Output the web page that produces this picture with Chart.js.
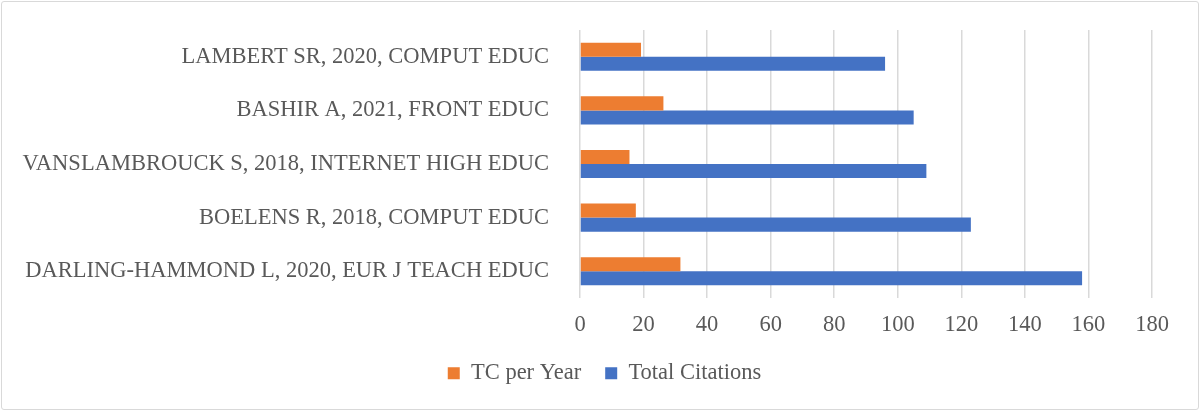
<!DOCTYPE html>
<html>
<head>
<meta charset="utf-8">
<script src="https://cdn.jsdelivr.net/npm/chart.js@4"></script>
<style>
  html, body { margin: 0; padding: 0; background: #fff; }
  #wrap { position: absolute; left: 1px; top: 1px; width: 1196px; height: 407px; border: 1px solid #d9d9d9; border-radius: 3px; }
  canvas { display: block; }
</style>
</head>
<body>
<div id="wrap"><canvas id="chart" width="1196" height="407"></canvas></div>
<script>
const labels = [
    'LAMBERT SR, 2020, COMPUT EDUC',
    'BASHIR A, 2021, FRONT EDUC',
    'VANSLAMBROUCK S, 2018, INTERNET HIGH EDUC',
    'BOELENS R, 2018, COMPUT EDUC',
    'DARLING-HAMMOND L, 2020, EUR J TEACH EDUC'
];
const tcPerYear = [19.2, 26.25, 15.57, 17.57, 31.6];
const totalCitations = [96, 105, 109, 123, 158];
const xTicks = [0, 20, 40, 60, 80, 100, 120, 140, 160, 180];

const grey = '#595959';
const font = { family: '"Liberation Serif", "Times New Roman", serif', size: 22.5 };

// fixed legend height and a small shift to the right, like the Excel legend
const legendPlace = {
    id: 'legendPlace',
    beforeLayout(chart) {
        const lg = chart.legend;
        if (lg && !lg._fixed) {
            const fit = lg.fit;
            lg.fit = function () { fit.call(this); this.height = 57; };
            lg._fixed = true;
        }
    },
    afterLayout(chart) {
        const lg = chart.legend;
        lg.left += 27.5;
        lg.right += 27.5;
    }
};

new Chart(document.getElementById('chart'), {
    type: 'bar',
    data: {
        labels: labels,
        datasets: [{
            label: 'TC per Year',
            data: tcPerYear,
            backgroundColor: '#ED7D31',
            barPercentage: 1,
            categoryPercentage: 0.524
        }, {
            label: 'Total Citations',
            data: totalCitations,
            backgroundColor: '#4472C4',
            barPercentage: 1,
            categoryPercentage: 0.524
        }]
    },
    options: {
        indexAxis: 'y',
        responsive: false,
        animation: false,
        layout: { padding: { top: 28, left: 0, right: 46, bottom: 14 } },
        scales: {
            x: {
                min: 0,
                max: 180,
                afterBuildTicks: axis => { axis.ticks = xTicks.map(v => ({ value: v })); },
                afterFit: axis => { axis.height = 40; },
                grid: { color: '#d9d9d9', lineWidth: 1.5, drawTicks: false },
                border: { display: false },
                ticks: { color: grey, font: font, padding: 14, maxRotation: 0 }
            },
            y: {
                afterFit: axis => {
                    axis.width = 578;
                    // labels sit mid-band, so no extra room is needed above the plot
                    axis.paddingTop = 0;
                    axis.paddingBottom = 0;
                },
                grid: { display: false },
                border: { display: false },
                ticks: { color: grey, font: font, padding: 23 }
            }
        },
        plugins: {
            legend: {
                position: 'bottom',
                labels: { color: grey, font: font, boxWidth: 12, boxHeight: 12, padding: 24 }
            },
            tooltip: { enabled: false }
        }
    },
    plugins: [legendPlace]
});
</script>
</body>
</html>
